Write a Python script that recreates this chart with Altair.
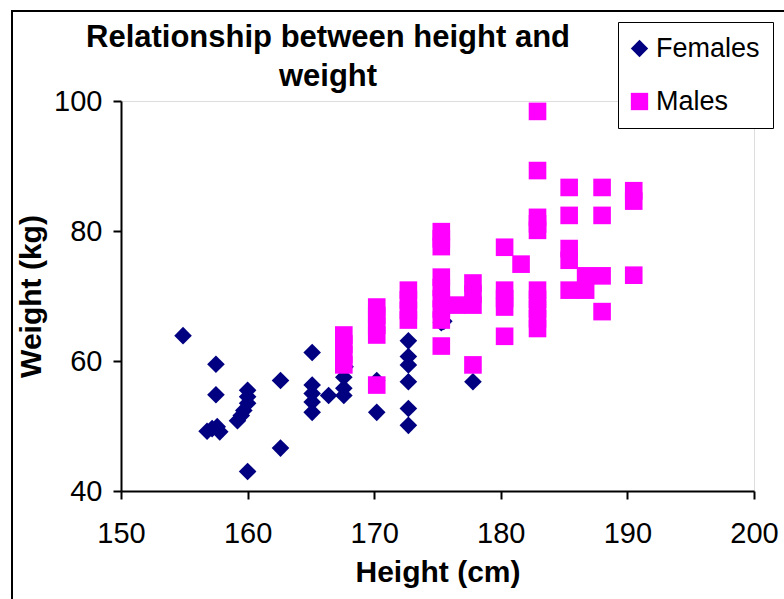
import altair as alt
import pandas as pd

# Female measurements (height in cm, weight in kg)
female_height = [154.9, 157.5, 157.5, 156.8, 157.2, 157.6, 157.8,
                 160.0, 160.0, 160.0, 159.7, 159.5, 159.2, 160.0,
                 162.6, 162.6, 165.1, 165.1, 165.1, 165.1, 165.1,
                 166.4, 167.6, 167.6, 167.6, 167.7, 170.2, 170.2, 170.2,
                 172.7, 172.7, 172.7, 172.7, 172.7, 172.7,
                 175.3, 175.5, 177.8]
female_weight = [63.9, 59.5, 54.8, 49.2, 49.6, 49.9, 49.1,
                 55.5, 54.5, 53.5, 52.4, 51.6, 50.8, 43.0,
                 57.0, 46.6, 61.3, 56.3, 55.0, 53.7, 52.1,
                 54.7, 57.5, 55.8, 54.7, 59.1, 57.0, 52.1, 67.8,
                 63.1, 60.7, 59.4, 56.8, 52.7, 50.1,
                 65.9, 66.1, 56.8]

# Male measurements (height in cm, weight in kg)
male_height = [167.6, 167.6, 167.6, 167.6,
               170.2, 170.2, 170.2, 170.2, 170.2,
               172.7, 172.7, 172.7, 172.7,
               175.3, 175.3, 175.3, 175.3, 175.3, 175.3, 175.3, 175.3, 175.3,
               176.5,
               177.8, 177.8, 177.8, 177.8,
               180.3, 180.3, 180.3, 180.3, 180.3,
               181.6,
               182.9, 182.9, 182.9, 182.9, 182.9, 182.9, 182.9, 182.9, 182.9, 182.9,
               185.4, 185.4, 185.4, 185.4, 185.4,
               186.7, 186.7,
               188.0, 188.0, 188.0, 188.0,
               190.5, 190.5, 190.5]
male_weight = [59.4, 61.0, 62.6, 64.0,
               56.3, 64.0, 65.5, 67.0, 68.3,
               66.3, 67.8, 69.4, 70.9,
               62.3, 66.3, 68.0, 69.6, 71.3, 72.9, 77.6, 78.8, 79.9,
               68.6,
               59.4, 68.6, 70.3, 72.0,
               63.8, 68.3, 69.6, 70.9, 77.5,
               74.9,
               65.0, 66.5, 68.0, 69.5, 70.9, 80.1, 81.1, 82.1, 89.3, 98.4,
               70.9, 75.5, 77.3, 82.4, 86.7,
               70.9, 73.1,
               67.6, 73.1, 82.4, 86.7,
               73.2, 84.6, 86.2]

groups = ["Females", "Males"]
colors = ["#000080", "#FF00FF"]
shapes = ["diamond", "square"]
title_lines = ["Relationship between height and", "weight"]

df = pd.concat([
    pd.DataFrame({"Height": female_height, "Weight": female_weight, "Sex": groups[0]}),
    pd.DataFrame({"Height": male_height, "Weight": male_weight, "Sex": groups[1]}),
], ignore_index=True)
df["order"] = range(len(df))

FONT = "Liberation Sans"

legend = alt.Legend(
    title=None,
    orient="none",
    legendX=497,
    legendY=-79,
    strokeColor="black",
    fillColor="white",
    padding=13,
    labelFont=FONT,
    labelFontSize=27,
    labelColor="black",
    labelOffset=3,
    labelExpr="datum.label + '      '",
    symbolSize=300,
    symbolOffset=-5,
    symbolStrokeWidth=0,
    rowPadding=25,
)

points = alt.Chart(df).mark_point(filled=True, opacity=1, size=310).encode(
    x=alt.X(
        "Height:Q",
        scale=alt.Scale(domain=[150, 200], nice=False, zero=False),
        axis=alt.Axis(
            title="Height (cm)",
            values=[150, 160, 170, 180, 190, 200],
            grid=False,
            tickSize=8,
            tickWidth=2,
            domainWidth=2,
            domainColor="black",
            tickColor="black",
            labelFont=FONT,
            labelFontSize=29,
            labelColor="black",
            labelPadding=20,
            labelFlush=False,
            titleFont=FONT,
            titleFontSize=30,
            titleFontWeight="bold",
            titleColor="black",
            titleBaseline="middle",
            titleY=81,
        ),
    ),
    y=alt.Y(
        "Weight:Q",
        scale=alt.Scale(domain=[40, 100], nice=False, zero=False),
        axis=alt.Axis(
            title="Weight (kg)",
            values=[40, 60, 80, 100],
            grid=False,
            tickSize=8,
            tickWidth=2,
            domainWidth=2,
            domainColor="black",
            tickColor="black",
            labelFont=FONT,
            labelFontSize=29,
            labelColor="black",
            labelPadding=11,
            titleFont=FONT,
            titleFontSize=30,
            titleFontWeight="bold",
            titleColor="black",
            titleBaseline="middle",
            titleAlign="center",
            titleAngle=270,
            titleX=-90,
            titleY=195,
        ),
    ),
    color=alt.Color("Sex:N", scale=alt.Scale(domain=groups, range=colors), legend=legend),
    shape=alt.Shape("Sex:N", scale=alt.Scale(domain=groups, range=shapes), legend=legend),
    order=alt.Order("order:Q"),
)

# Outer chart frame
frame = alt.Chart(pd.DataFrame({"f": [0]})).mark_rect(
    fillOpacity=0, stroke="black", strokeWidth=2
).encode(
    x=alt.value(-109), x2=alt.value(700),
    y=alt.value(-90), y2=alt.value(540),
)

# Two-line chart heading, centred to the left of the legend
heading = alt.Chart(pd.DataFrame({"f": [0]})).mark_text(
    text=title_lines,
    font=FONT,
    fontSize=31,
    fontWeight="bold",
    color="black",
    align="center",
    baseline="alphabetic",
    lineHeight=39,
).encode(x=alt.value(207), y=alt.value(-54))

chart = alt.layer(frame, points, heading).properties(
    width=633,
    height=390,
    autosize=alt.AutoSizeParams(type="none"),
    padding={"left": 121, "top": 101, "right": 30, "bottom": 108},
).configure_view(stroke=None).configure(background="white")

chart.save("out.html", embed_options={"renderer": "svg", "actions": False})
